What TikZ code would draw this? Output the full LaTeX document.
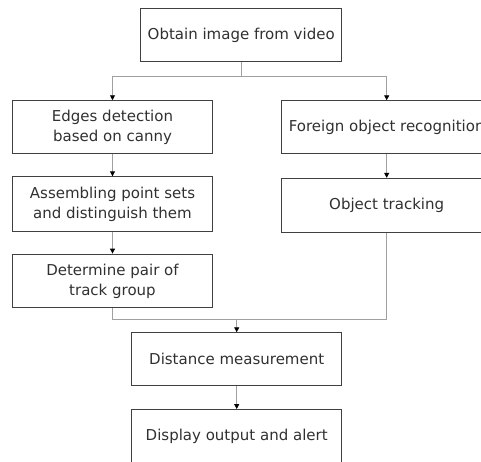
\documentclass[tikz,border=0pt]{standalone}
\usepackage{fontspec}
\setmainfont{DejaVu Sans}
\usetikzlibrary{arrows.meta}
\definecolor{boxline}{HTML}{404040}
\definecolor{conn}{HTML}{A0A0A0}
\definecolor{txt}{HTML}{303030}
\tikzset{
  box/.style={draw=boxline, line width=0.9pt, rectangle, align=center, text=txt,
    font=\fontsize{15}{20}\selectfont, inner sep=0pt},
  conn/.style={draw=conn, line width=0.9pt},
  arr/.style={conn, -{Triangle[length=5pt,width=5pt,color=black]}}
}
\begin{document}
\begin{tikzpicture}[x=1pt,y=-1pt]
\useasboundingbox (0,0) rectangle (481,461);
\clip (0,0) rectangle (481,461);
\node[box, minimum width=201pt, minimum height=53.4pt] (top) at (241.2,35) {Obtain image from video};
\node[box, minimum width=200.4pt, minimum height=52.6pt] (edges) at (112.5,127) {Edges detection\\based on canny};
\node[box, minimum width=210pt, minimum height=52.6pt] (foreign) at (386.7,127) {Foreign object recognition};
\node[box, minimum width=200.4pt, minimum height=54.3pt] (assemb) at (112.5,203.9) {Assembling point sets\\and distinguish them};
\node[box, minimum width=210pt, minimum height=54pt] (track) at (386.7,205.3) {Object tracking};
\node[box, minimum width=200.4pt, minimum height=53.7pt] (determ) at (112.5,280.9) {Determine pair of\\track group};
\node[box, minimum width=210pt, minimum height=53pt] (dist) at (236.7,359.2) {Distance measurement};
\node[box, minimum width=210pt, minimum height=53pt] (disp) at (236.7,436) {Display output and alert};
\coordinate (split) at (241.2,76.7);
\coordinate (merge) at (236.7,319);
\draw[conn] (top.south) -- (split);
\draw[arr] (split) -| (edges.north);
\draw[arr] (split) -| (foreign.north);
\draw[arr] (edges.south) -- (assemb.north);
\draw[arr] (foreign.south) -- (track.north);
\draw[arr] (assemb.south) -- (determ.north);
\draw[conn] (determ.south) |- (merge);
\draw[conn] (track.south) |- (merge);
\draw[arr] (merge) -- (dist.north);
\draw[arr] (dist.south) -- (disp.north);
\end{tikzpicture}
\end{document}
